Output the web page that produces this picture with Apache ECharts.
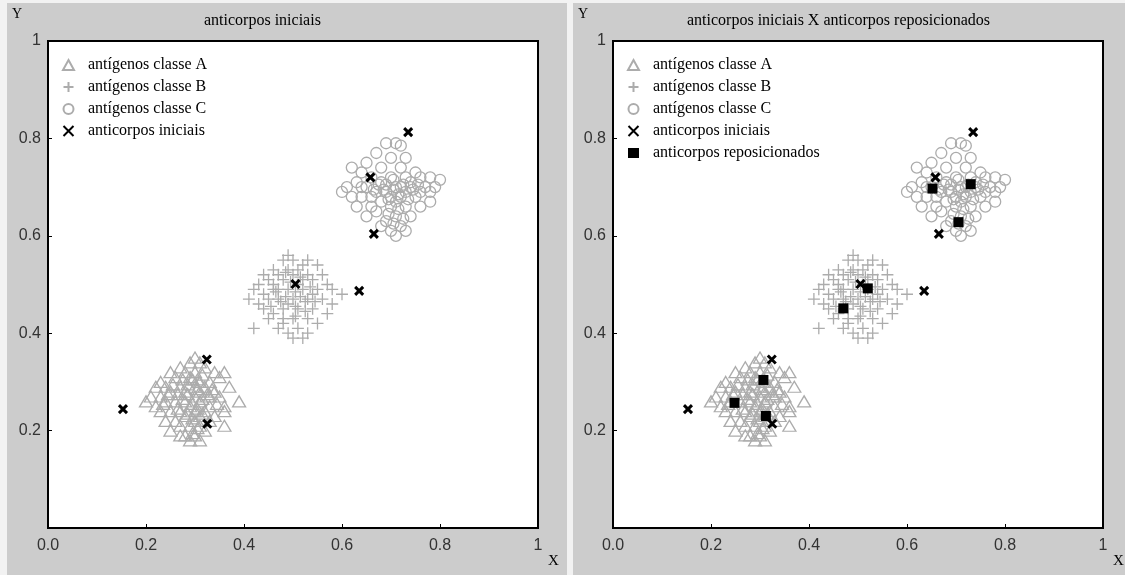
<!DOCTYPE html>
<html>
<head>
<meta charset="utf-8">
<script src="https://cdn.jsdelivr.net/npm/echarts@6/dist/echarts.min.js"></script>
<style>
  html, body { margin: 0; padding: 0; background: #f2f2f2; }
  #chart { width: 1125px; height: 575px; }
</style>
</head>
<body>
<div id="chart"></div>
<script>
const titles = ['anticorpos iniciais', 'anticorpos iniciais X anticorpos reposicionados']
const seriesNames = ['antígenos classe A', 'antígenos classe B', 'antígenos classe C', 'anticorpos iniciais', 'anticorpos reposicionados']

const classA = [
  [0.30, 0.35], [0.29, 0.34], [0.31, 0.34], [0.27, 0.33], [0.32, 0.33], [0.25, 0.32], [0.28, 0.32], [0.30, 0.32], [0.34, 0.32], [0.36, 0.32],
  [0.23, 0.30], [0.26, 0.31], [0.29, 0.31], [0.31, 0.30], [0.33, 0.30], [0.35, 0.31], [0.22, 0.29], [0.24, 0.29], [0.27, 0.29], [0.30, 0.29],
  [0.32, 0.29], [0.34, 0.28], [0.37, 0.29], [0.21, 0.27], [0.23, 0.27], [0.25, 0.28], [0.28, 0.28], [0.30, 0.27], [0.31, 0.28], [0.33, 0.27],
  [0.35, 0.27], [0.20, 0.26], [0.22, 0.25], [0.24, 0.26], [0.26, 0.26], [0.28, 0.26], [0.29, 0.25], [0.31, 0.26], [0.33, 0.25], [0.36, 0.25],
  [0.39, 0.26], [0.23, 0.24], [0.25, 0.24], [0.27, 0.24], [0.30, 0.24], [0.32, 0.24], [0.34, 0.23], [0.36, 0.24], [0.24, 0.22], [0.26, 0.22],
  [0.28, 0.23], [0.30, 0.22], [0.31, 0.23], [0.33, 0.22], [0.25, 0.20], [0.27, 0.21], [0.29, 0.21], [0.31, 0.21], [0.36, 0.21], [0.28, 0.19],
  [0.30, 0.19], [0.31, 0.18], [0.29, 0.18], [0.32, 0.20], [0.27, 0.19],
  [0.295, 0.305], [0.305, 0.285], [0.285, 0.275], [0.315, 0.265], [0.295, 0.255], [0.275, 0.265], [0.305, 0.245], [0.285, 0.235],
  [0.315, 0.235], [0.295, 0.225], [0.265, 0.275], [0.325, 0.275], [0.305, 0.305], [0.285, 0.295], [0.265, 0.245], [0.335, 0.285],
  [0.245, 0.275], [0.305, 0.205], [0.295, 0.195], [0.255, 0.295], [0.345, 0.255], [0.275, 0.305], [0.315, 0.315], [0.235, 0.255]
]
const classB = [
  [0.49, 0.56], [0.50, 0.55], [0.48, 0.55], [0.53, 0.55], [0.52, 0.54], [0.46, 0.53], [0.49, 0.53], [0.51, 0.53], [0.55, 0.54], [0.44, 0.52],
  [0.47, 0.52], [0.50, 0.52], [0.53, 0.52], [0.56, 0.52], [0.43, 0.50], [0.45, 0.51], [0.48, 0.51], [0.51, 0.50], [0.54, 0.51], [0.57, 0.50],
  [0.42, 0.49], [0.44, 0.48], [0.46, 0.49], [0.49, 0.49], [0.52, 0.49], [0.55, 0.49], [0.58, 0.49], [0.60, 0.48], [0.41, 0.47], [0.43, 0.46],
  [0.45, 0.47], [0.47, 0.47], [0.50, 0.47], [0.53, 0.47], [0.56, 0.47], [0.58, 0.46], [0.44, 0.45], [0.46, 0.44], [0.48, 0.45], [0.51, 0.45],
  [0.54, 0.45], [0.57, 0.44], [0.45, 0.43], [0.48, 0.43], [0.50, 0.43], [0.53, 0.43], [0.55, 0.42], [0.42, 0.41], [0.47, 0.41], [0.49, 0.40],
  [0.51, 0.41], [0.53, 0.40], [0.50, 0.39], [0.52, 0.39], [0.48, 0.42], [0.46, 0.50], [0.52, 0.51], [0.49, 0.46], [0.54, 0.48], [0.47, 0.49],
  [0.495, 0.505], [0.505, 0.485], [0.515, 0.475], [0.485, 0.475], [0.505, 0.455], [0.525, 0.465], [0.475, 0.465], [0.515, 0.515],
  [0.485, 0.525], [0.535, 0.495], [0.465, 0.485], [0.505, 0.435], [0.525, 0.445], [0.545, 0.465], [0.455, 0.455]
]
const classC = [
  [0.69, 0.79], [0.71, 0.79], [0.72, 0.785], [0.67, 0.77], [0.73, 0.76], [0.65, 0.75], [0.70, 0.76], [0.62, 0.74], [0.64, 0.73], [0.68, 0.74],
  [0.72, 0.74], [0.75, 0.73], [0.66, 0.72], [0.70, 0.72], [0.73, 0.72], [0.76, 0.72], [0.78, 0.72], [0.80, 0.715], [0.61, 0.70], [0.63, 0.71],
  [0.65, 0.70], [0.68, 0.71], [0.71, 0.70], [0.74, 0.70], [0.77, 0.70], [0.79, 0.70], [0.60, 0.69], [0.62, 0.68], [0.64, 0.68], [0.67, 0.69],
  [0.69, 0.69], [0.72, 0.68], [0.75, 0.68], [0.78, 0.69], [0.63, 0.66], [0.66, 0.66], [0.68, 0.67], [0.70, 0.66], [0.73, 0.66], [0.76, 0.66],
  [0.78, 0.67], [0.65, 0.64], [0.67, 0.65], [0.71, 0.64], [0.74, 0.64], [0.69, 0.63], [0.72, 0.62], [0.70, 0.61], [0.71, 0.60], [0.73, 0.61],
  [0.68, 0.62], [0.66, 0.68], [0.70, 0.68], [0.74, 0.71], [0.69, 0.705], [0.76, 0.69], [0.72, 0.70], [0.64, 0.70], [0.71, 0.67], [0.73, 0.69],
  [0.705, 0.695], [0.715, 0.685], [0.695, 0.675], [0.725, 0.705], [0.685, 0.695], [0.735, 0.675], [0.715, 0.655], [0.705, 0.715],
  [0.745, 0.695], [0.675, 0.705], [0.695, 0.645], [0.725, 0.635], [0.705, 0.625], [0.665, 0.695], [0.755, 0.705]
]
const initialAntibodies = [
  [0.153, 0.244], [0.324, 0.346], [0.325, 0.214], [0.505, 0.501], [0.635, 0.487], [0.658, 0.72], [0.665, 0.604], [0.735, 0.813]
]
const movedAntibodies = [
  [0.248, 0.257], [0.307, 0.304], [0.312, 0.23], [0.47, 0.451], [0.52, 0.492], [0.652, 0.697], [0.73, 0.706], [0.705, 0.628]
]

const GRAY = '#acacac'
const SERIF = "'Liberation Serif', 'DejaVu Serif', serif"
const SANS = "'Liberation Sans', Arial, sans-serif"
const grids = [
  { left: 48, top: 41, width: 490, height: 487 },
  { left: 613, top: 41, width: 490, height: 487 },
]
const titleLeft = [204, 687]

const symB = 'path://M6,0L6,12M0,6L12,6'
const symX = 'path://M0,0L10,10M10,0L0,10'

function axisCommon(isX) {
  return {
    type: 'value',
    min: 0,
    max: 1,
    interval: 0.2,
    axisLine: { show: true, onZero: false, lineStyle: { color: '#000', width: 2 } },
    axisTick: { show: true, inside: true, length: 4, lineStyle: { color: '#000', width: 1 } },
    splitLine: { show: false },
    axisLabel: {
      color: '#333',
      fontFamily: SANS,
      fontSize: 16,
      margin: isX ? 10 : 7,
      formatter: v => {
        if (v === 0) return isX ? '0.0' : ''
        if (v === 1) return '1'
        return v.toFixed(1)
      },
    },
  }
}

function seriesFor(gi) {
  const list = [
    {
      name: seriesNames[0], data: classA, symbol: 'triangle', symbolSize: [13, 11],
      itemStyle: { color: 'rgba(0,0,0,0)', borderColor: GRAY, borderWidth: 1.3 },
    },
    {
      name: seriesNames[1], data: classB, symbol: symB, symbolSize: 12,
      itemStyle: { color: 'rgba(0,0,0,0)', borderColor: GRAY, borderWidth: 1.3 },
    },
    {
      name: seriesNames[2], data: classC, symbol: 'circle', symbolSize: 11,
      itemStyle: { color: 'rgba(0,0,0,0)', borderColor: GRAY, borderWidth: 1.3 },
    },
    {
      name: seriesNames[3], data: initialAntibodies, symbol: symX, symbolSize: 8,
      itemStyle: { color: 'rgba(0,0,0,0)', borderColor: '#000', borderWidth: 3 },
      z: 5,
    },
  ]
  if (gi === 1) {
    list.push({
      name: seriesNames[4], data: movedAntibodies, symbol: 'rect', symbolSize: 10,
      itemStyle: { color: '#000' },
      z: 6,
    })
  }
  return list.map(s => {
    s.itemStyle.opacity = 1
    return Object.assign({
      type: 'scatter',
      xAxisIndex: gi,
      yAxisIndex: gi,
      emphasis: { disabled: true },
    }, s)
  })
}

const chart = echarts.init(document.getElementById('chart'))
chart.setOption({
  backgroundColor: '#f2f2f2',
  animation: false,
  graphic: [
    { type: 'rect', shape: { x: 7, y: 3, width: 560, height: 572 }, style: { fill: '#cccccc' }, z: -10 },
    { type: 'rect', shape: { x: 573, y: 3, width: 552, height: 572 }, style: { fill: '#cccccc' }, z: -10 },
    { type: 'text', left: 12, top: 7, style: { text: 'Y', font: '14px ' + SERIF, fill: '#000' } },
    { type: 'text', left: 548, top: 554, style: { text: 'X', font: '15px ' + SERIF, fill: '#000' } },
    { type: 'text', left: 578, top: 7, style: { text: 'Y', font: '14px ' + SERIF, fill: '#000' } },
    { type: 'text', left: 1113, top: 554, style: { text: 'X', font: '15px ' + SERIF, fill: '#000' } },
  ],
  title: grids.map((g, i) => ({
    text: titles[i],
    left: titleLeft[i] - 5,
    top: 8,
    textStyle: { fontFamily: SERIF, fontSize: 16, fontWeight: 'normal', color: '#000' },
  })),
  legend: grids.map((g, i) => ({
    data: seriesNames.slice(0, i === 0 ? 4 : 5),
    orient: 'vertical',
    left: g.left + 9,
    top: 52,
    itemWidth: 11,
    itemHeight: 10,
    itemGap: 6,
    selectedMode: false,
    textStyle: { fontFamily: SERIF, fontSize: 16, color: '#000', padding: [0, 0, 0, 9] },
  })),
  grid: grids.map(g => Object.assign({
    show: true,
    backgroundColor: '#fff',
    borderColor: '#000',
    borderWidth: 2,
  }, g)),
  xAxis: grids.map((g, i) => Object.assign(axisCommon(true), { gridIndex: i })),
  yAxis: grids.map((g, i) => Object.assign(axisCommon(false), { gridIndex: i })),
  series: seriesFor(0).concat(seriesFor(1)),
})
</script>
</body>
</html>
